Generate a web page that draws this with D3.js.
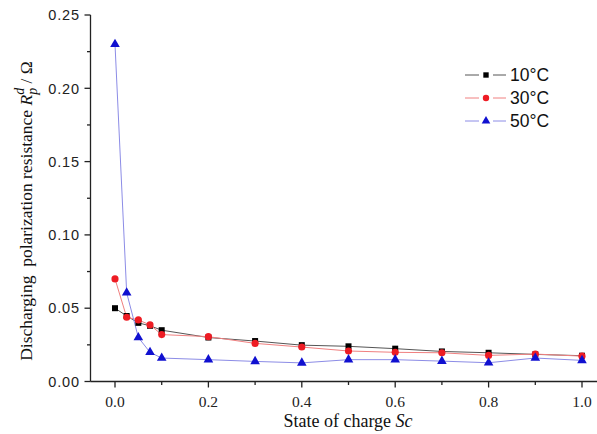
<!DOCTYPE html>
<html><head><meta charset="utf-8">
<script src="https://cdn.jsdelivr.net/npm/d3@7"></script>
<style>body{margin:0;background:#fff}svg{display:block}</style>
</head><body>
<svg id="c" width="597" height="434"></svg>
<script>
const sc  = [0, 0.025, 0.05, 0.075, 0.1, 0.2, 0.3, 0.4, 0.5, 0.6, 0.7, 0.8, 0.9, 1.0];
const t10 = [0.050, 0.0447, 0.040, 0.038, 0.035, 0.030, 0.0276, 0.0248, 0.0240, 0.0224, 0.0205, 0.0196, 0.0185, 0.0176];
const t30 = [0.070, 0.0438, 0.042, 0.0386, 0.032, 0.0306, 0.026, 0.0235, 0.0208, 0.0199, 0.0196, 0.0178, 0.0187, 0.0173];
const t50 = [0.230, 0.0605, 0.030, 0.0199, 0.016, 0.0149, 0.0137, 0.0127, 0.0149, 0.0149, 0.0139, 0.0128, 0.016, 0.0144];
const seriesNames = ["10\u00B0C", "30\u00B0C", "50\u00B0C"];
const xTicks = [0, 0.2, 0.4, 0.6, 0.8, 1.0];
const xMinor = [0.1, 0.3, 0.5, 0.7, 0.9];
const yTicks = [0, 0.05, 0.10, 0.15, 0.20, 0.25];
const yMinor = [0.025, 0.075, 0.125, 0.175, 0.225];

const svg = d3.select("#c");
const x = d3.scaleLinear().domain([0, 1]).range([115, 582]);
const y = d3.scaleLinear().domain([0, 0.25]).range([381.5, 15]);
const axisX = 90.5, axisY = 381.5;

const series = [
  {name: seriesNames[0], vals: t10, fill: "#000000", line: "#555555", shape: d3.symbolSquare, size: 36},
  {name: seriesNames[1], vals: t30, fill: "#ee1c24", line: "#f08080", shape: d3.symbolCircle, size: 40},
  {name: seriesNames[2], vals: t50, fill: "#1010d0", line: "#8c8ce6", shape: d3.symbolTriangle, size: 40}
];

// axes
const ax = svg.append("g").attr("stroke", "#222").attr("stroke-width", 1.3);
ax.append("line").attr("x1", axisX).attr("x2", axisX).attr("y1", y(0.25)).attr("y2", axisY);
ax.append("line").attr("x1", axisX).attr("x2", 597).attr("y1", axisY).attr("y2", axisY);
yTicks.forEach(v => ax.append("line").attr("x1", axisX - 6).attr("x2", axisX).attr("y1", y(v)).attr("y2", y(v)));
yMinor.forEach(v => ax.append("line").attr("x1", axisX - 3.5).attr("x2", axisX).attr("y1", y(v)).attr("y2", y(v)));
xTicks.forEach(v => ax.append("line").attr("x1", x(v)).attr("x2", x(v)).attr("y1", axisY).attr("y2", axisY + 6));
xMinor.forEach(v => ax.append("line").attr("x1", x(v)).attr("x2", x(v)).attr("y1", axisY).attr("y2", axisY + 3.5));

// tick labels
svg.append("g").selectAll("text").data(yTicks).join("text")
  .attr("x", 80).attr("y", d => y(d)).attr("dy", "0.36em").attr("text-anchor", "end")
  .attr("font-family", "Liberation Sans, Arial, sans-serif").attr("font-size", 14.5)
  .attr("letter-spacing", 0.9).attr("fill", "#222")
  .text(d => d3.format(".2f")(d));
svg.append("g").selectAll("text").data(xTicks).join("text")
  .attr("x", d => x(d)).attr("y", 407).attr("text-anchor", "middle")
  .attr("font-family", "Liberation Serif, Times New Roman, serif").attr("font-size", 15.5)
  .attr("fill", "#222")
  .text(d => d3.format(".1f")(d));

// axis titles
const xt = svg.append("text").attr("x", 348).attr("y", 427).attr("text-anchor", "middle")
  .attr("font-family", "Liberation Serif, Times New Roman, serif").attr("font-size", 18).attr("fill", "#111");
xt.append("tspan").text("State of charge ");
xt.append("tspan").attr("font-style", "italic").text("Sc");

const yt = svg.append("text").attr("transform", "translate(32,211) rotate(-90)").attr("text-anchor", "middle")
  .attr("font-family", "Liberation Serif, Times New Roman, serif").attr("font-size", 17.5).attr("fill", "#111")
  .attr("xml:space", "preserve");
yt.append("tspan").text("Discharging\u00A0 polarization resistance ");
yt.append("tspan").attr("font-style", "italic").text("R");
yt.append("tspan").attr("font-style", "italic").attr("font-size", 14).attr("dy", -8).text("d");
yt.append("tspan").attr("font-style", "italic").attr("font-size", 14).attr("dx", -7).attr("dy", 13).text("p");
yt.append("tspan").attr("dy", -5).text(" / \u03A9");

// lines & markers
const lineGen = d3.line().x(d => x(d[0])).y(d => y(d[1]));
series.forEach(s => {
  const pts = sc.map((v, i) => [v, s.vals[i]]);
  svg.append("path").datum(pts).attr("d", lineGen).attr("fill", "none")
    .attr("stroke", s.line).attr("stroke-width", 1);
});
series.forEach(s => {
  const pts = sc.map((v, i) => [v, s.vals[i]]);
  svg.append("g").selectAll("path").data(pts).join("path")
    .attr("d", d3.symbol().type(s.shape).size(s.size))
    .attr("transform", d => `translate(${x(d[0])},${y(d[1])})`)
    .attr("fill", s.fill);
});

// legend
const legY = [75, 98, 121];
series.forEach((s, i) => {
  const g = svg.append("g").attr("transform", `translate(0,${legY[i]})`);
  g.append("line").attr("x1", 465).attr("x2", 479).attr("y1", 0).attr("y2", 0).attr("stroke", s.line).attr("stroke-width", 1);
  g.append("line").attr("x1", 493).attr("x2", 506).attr("y1", 0).attr("y2", 0).attr("stroke", s.line).attr("stroke-width", 1);
  g.append("path").attr("d", d3.symbol().type(s.shape).size(s.size * 0.8)).attr("transform", "translate(486,0)").attr("fill", s.fill);
  g.append("text").attr("x", 510).attr("y", 0).attr("dy", "0.36em")
    .attr("font-family", "Liberation Sans, Arial, sans-serif").attr("font-size", 17.5).attr("fill", "#111")
    .text(s.name);
});
</script>
</body></html>
